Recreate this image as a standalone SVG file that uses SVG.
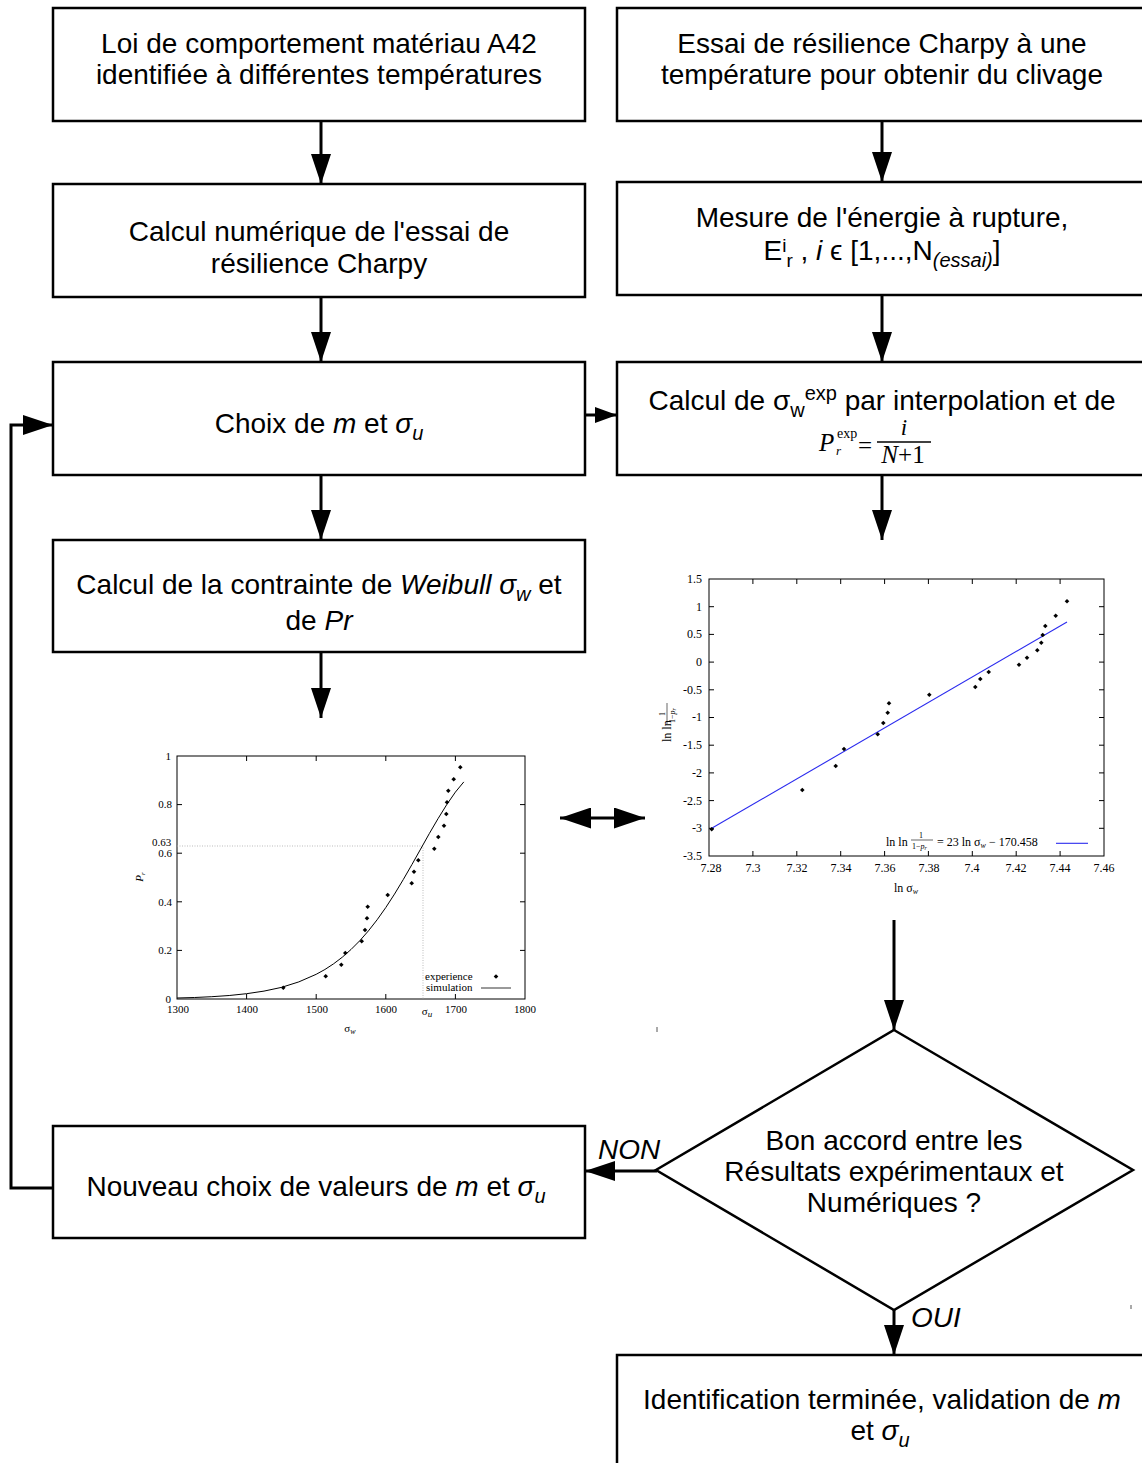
<svg xmlns="http://www.w3.org/2000/svg" width="1142" height="1463" viewBox="0 0 1142 1463">
<style>
.box{fill:#fff;stroke:#000;stroke-width:2.5}
.t{font-family:"Liberation Sans",Arial,sans-serif;font-size:28px;fill:#000;text-anchor:middle}
.lb{font-family:"Liberation Sans",Arial,sans-serif;font-size:28px;fill:#000;font-style:italic}
.i{font-style:italic}
.c{fill:none;stroke:#000;stroke-width:3}
.ax{fill:none;stroke:#000;stroke-width:1}
.pl{font-family:"Liberation Serif","Times New Roman",serif;font-size:11px;fill:#000}
.pr{font-family:"Liberation Serif","Times New Roman",serif;font-size:12px;fill:#000}
.m{font-family:"Liberation Serif","Times New Roman",serif;fill:#000}
</style>
<defs>
<marker id="ah" markerUnits="userSpaceOnUse" markerWidth="30" markerHeight="20" viewBox="0 0 30 20" refX="30" refY="10" orient="auto"><path d="M0,0L30,10L0,20z" fill="#000"/></marker>
<marker id="ahd" markerUnits="userSpaceOnUse" markerWidth="31" markerHeight="21" viewBox="0 0 31 21" refX="31" refY="10.5" orient="auto-start-reverse"><path d="M0,0L31,10.5L0,21z" fill="#000"/></marker>
<marker id="ahs" markerUnits="userSpaceOnUse" markerWidth="22" markerHeight="16" viewBox="0 0 22 16" refX="22" refY="8" orient="auto"><path d="M0,0L22,8L0,16z" fill="#000"/></marker>
<path id="dm" d="M0,-2.3L2.3,0L0,2.3L-2.3,0z" fill="#000"/>
</defs>
<rect width="1142" height="1463" fill="#fff"/>

<g id="n-loi">
<rect class="box" x="53" y="8" width="532" height="113"/>
<text class="t" x="319" y="53">Loi de comportement matériau A42</text>
<text class="t" x="319" y="84">identifiée à différentes températures</text>
</g>
<g id="n-essai">
<rect class="box" x="617" y="8" width="531" height="113"/>
<text class="t" x="882" y="53">Essai de résilience Charpy à une</text>
<text class="t" x="882" y="84">température pour obtenir du clivage</text>
</g>
<g id="n-calcnum">
<rect class="box" x="53" y="184" width="532" height="113"/>
<text class="t" x="319" y="241">Calcul numérique de l'essai de</text>
<text class="t" x="319" y="273">résilience Charpy</text>
</g>
<g id="n-mesure">
<rect class="box" x="617" y="182" width="531" height="113"/>
<text class="t" x="882" y="227">Mesure de l'énergie à rupture,</text>
<text class="t" x="882" y="260">E<tspan font-size="19" dy="-8">i</tspan><tspan font-size="19" dy="15">r</tspan><tspan dy="-7"> , </tspan><tspan class="i">i</tspan> ϵ [1,...,N<tspan class="i" font-size="20" dy="7">(essai)</tspan><tspan dy="-7">]</tspan></text>
</g>
<g id="n-choix">
<rect class="box" x="53" y="362" width="532" height="113"/>
<text class="t" x="319" y="433">Choix de <tspan class="i">m</tspan> et <tspan class="i">σ</tspan><tspan class="i" font-size="20" dy="7">u</tspan></text>
</g>
<g id="n-interp">
<rect class="box" x="617" y="362" width="531" height="113"/>
<text class="t" x="882" y="410">Calcul de σ<tspan font-size="20" dy="7">w</tspan><tspan font-size="20" dy="-17">exp</tspan><tspan dy="10"> par interpolation et de</tspan></text>
<text class="m i" x="819" y="451" font-size="25">P</text>
<text class="m" x="837" y="438" font-size="14">exp</text>
<text class="m i" x="836" y="455" font-size="13">r</text>
<text class="m" x="858" y="454" font-size="25">=</text>
<line x1="877" y1="442" x2="931" y2="442" stroke="#000" stroke-width="1.5"/>
<text class="m i" x="904" y="435" font-size="23" text-anchor="middle">i</text>
<text class="m" x="903" y="463" font-size="25" text-anchor="middle"><tspan class="i">N</tspan>+1</text>
</g>
<g id="n-weibull">
<rect class="box" x="53" y="540" width="532" height="112"/>
<text class="t" x="319" y="594">Calcul de la contrainte de <tspan class="i">Weibull σ</tspan><tspan class="i" font-size="20" dy="7">w</tspan><tspan dy="-7"> et</tspan></text>
<text class="t" x="319" y="630">de <tspan class="i">Pr</tspan></text>
</g>
<g id="n-nouveau">
<rect class="box" x="53" y="1126" width="532" height="112"/>
<text class="t" x="316" y="1196">Nouveau choix de valeurs de <tspan class="i">m</tspan> et <tspan class="i">σ</tspan><tspan class="i" font-size="20" dy="7">u</tspan></text>
</g>
<g id="n-accord">
<polygon points="894,1030 1133,1170 894,1310 656,1170" fill="#fff" stroke="#000" stroke-width="2.5"/>
<text class="t" x="894" y="1150">Bon accord entre les</text>
<text class="t" x="894" y="1181">Résultats expérimentaux et</text>
<text class="t" x="894" y="1212">Numériques ?</text>
</g>
<g id="n-fin">
<rect class="box" x="617" y="1355" width="531" height="120"/>
<text class="t" x="882" y="1409">Identification terminée, validation de <tspan class="i">m</tspan></text>
<text class="t" x="880" y="1440">et <tspan class="i">σ</tspan><tspan class="i" font-size="20" dy="7">u</tspan></text>
</g>

<g id="plot-left">
<rect class="ax" x="177" y="756" width="348" height="243"/>
<path class="ax" d="M246.6,999v-5M316.2,999v-5M385.8,999v-5M455.4,999v-5M246.6,756v5M316.2,756v5M385.8,756v5M455.4,756v5M177,950.4h5M177,901.8h5M177,853.2h5M177,804.6h5M525,950.4h-5M525,901.8h-5M525,853.2h-5M525,804.6h-5"/>
<g class="pl" text-anchor="end">
<text x="171" y="1003">0</text><text x="172" y="954">0.2</text><text x="172" y="906">0.4</text><text x="172" y="857">0.6</text><text x="172" y="808">0.8</text><text x="171" y="760">1</text>
</g>
<text class="pl" x="152" y="846" font-size="12.5">0.63</text>
<g class="pl" text-anchor="middle">
<text x="178" y="1013">1300</text><text x="247" y="1013">1400</text><text x="317" y="1013">1500</text><text x="386" y="1013">1600</text><text x="456" y="1013">1700</text><text x="525" y="1013">1800</text>
</g>
<text class="pl" x="427" y="1015" font-size="13" text-anchor="middle">σ<tspan class="i" font-size="9" dy="2">u</tspan></text>
<text class="pl" x="350" y="1032" font-size="11" text-anchor="middle">σ<tspan class="i" font-size="8" dy="2">w</tspan></text>
<text class="pl i" transform="translate(143,877) rotate(-90)" font-size="10" text-anchor="middle">P<tspan font-size="7" dy="2">r</tspan></text>
<path d="M177,846H423V999" fill="none" stroke="#aaa" stroke-width="0.8" stroke-dasharray="1,1.5"/>
<path class="ax" d="M177,998L194.4,997.5L211.8,996.7L229.2,995.5L246.6,993.7L264,991.1L281.4,987.4L298.8,981.9L316.2,974.3L324.9,969.5L333.6,963.8L342.3,957.2L351,949.5L359.7,940.8L368.4,930.9L377.1,919.8L385.8,907.5L394.5,894.1L403.2,879.7L411.9,864.6L420.6,849.1L429.3,833.6L438,818.7L446.7,804.7L455.4,792.1L463.8,781.9" stroke-width="1.2"/>
<g>
<use href="#dm" x="283.3" y="987.7"/><use href="#dm" x="325.7" y="976.3"/><use href="#dm" x="341.3" y="964.7"/><use href="#dm" x="345.3" y="953"/><use href="#dm" x="361.7" y="941.3"/><use href="#dm" x="365" y="930"/><use href="#dm" x="367" y="918.3"/><use href="#dm" x="367.7" y="906.7"/><use href="#dm" x="387.7" y="895"/><use href="#dm" x="411.7" y="883.3"/><use href="#dm" x="414" y="871.7"/><use href="#dm" x="418.3" y="860.3"/><use href="#dm" x="434.3" y="848.7"/><use href="#dm" x="438.3" y="837"/><use href="#dm" x="444" y="825.7"/><use href="#dm" x="446.3" y="814"/><use href="#dm" x="447" y="802.3"/><use href="#dm" x="448.3" y="790.7"/><use href="#dm" x="453.7" y="779.3"/><use href="#dm" x="460.3" y="767.3"/>
</g>
<text class="pl" x="425" y="980" font-size="10.5">experience</text>
<use href="#dm" x="496" y="976.5"/>
<text class="pl" x="426" y="991" font-size="10.5">simulation</text>
<line x1="481" y1="988" x2="511" y2="988" stroke="#000" stroke-width="0.8"/>
</g>

<g id="plot-right">
<rect class="ax" x="709" y="579" width="395" height="277"/>
<path class="ax" d="M752.9,856v-5M796.8,856v-5M840.7,856v-5M884.6,856v-5M928.4,856v-5M972.3,856v-5M1016.2,856v-5M1060.1,856v-5M752.9,579v5M796.8,579v5M840.7,579v5M884.6,579v5M928.4,579v5M972.3,579v5M1016.2,579v5M1060.1,579v5M709,606.7h5M709,634.4h5M709,662.1h5M709,689.8h5M709,717.5h5M709,745.2h5M709,772.9h5M709,800.6h5M709,828.3h5M1104,606.7h-5M1104,634.4h-5M1104,662.1h-5M1104,689.8h-5M1104,717.5h-5M1104,745.2h-5M1104,772.9h-5M1104,800.6h-5M1104,828.3h-5"/>
<g class="pr" text-anchor="end">
<text x="702" y="583">1.5</text><text x="702" y="611">1</text><text x="702" y="638">0.5</text><text x="702" y="666">0</text><text x="702" y="694">-0.5</text><text x="702" y="721">-1</text><text x="702" y="749">-1.5</text><text x="702" y="777">-2</text><text x="702" y="805">-2.5</text><text x="702" y="832">-3</text><text x="702" y="860">-3.5</text>
</g>
<g class="pr" text-anchor="middle">
<text x="711" y="872">7.28</text><text x="753" y="872">7.3</text><text x="797" y="872">7.32</text><text x="841" y="872">7.34</text><text x="885" y="872">7.36</text><text x="929" y="872">7.38</text><text x="972" y="872">7.4</text><text x="1016" y="872">7.42</text><text x="1060" y="872">7.44</text><text x="1104" y="872">7.46</text>
</g>
<text class="pr" x="906" y="892" text-anchor="middle">ln σ<tspan class="i" font-size="8" dy="2">w</tspan></text>
<g transform="translate(667,719) rotate(-90)">
<text class="pr" x="-23" y="4" font-size="11">ln ln</text>
<text class="m" x="5" y="-2" font-size="8" text-anchor="middle">1</text>
<line x1="-5" y1="0" x2="16" y2="0" stroke="#000" stroke-width="0.6"/>
<text class="m" x="-4" y="8" font-size="8">1−<tspan class="i">p</tspan><tspan class="i" font-size="6" dy="1">r</tspan></text>
</g>
<line x1="711.7" y1="828.3" x2="1067" y2="622" stroke="#2a2aee" stroke-width="1.1"/>
<g>
<use href="#dm" x="711.7" y="829.3"/><use href="#dm" x="802.3" y="790"/><use href="#dm" x="835.7" y="766"/><use href="#dm" x="844" y="749"/><use href="#dm" x="877.7" y="734.3"/><use href="#dm" x="883.3" y="723"/><use href="#dm" x="887.7" y="712.7"/><use href="#dm" x="889" y="703.3"/><use href="#dm" x="929.3" y="694.7"/><use href="#dm" x="975.3" y="687"/><use href="#dm" x="980.3" y="679"/><use href="#dm" x="988.7" y="672"/><use href="#dm" x="1019" y="664.7"/><use href="#dm" x="1027" y="657.7"/><use href="#dm" x="1037.3" y="650.3"/><use href="#dm" x="1041.3" y="642.7"/><use href="#dm" x="1042.7" y="635"/><use href="#dm" x="1045.3" y="626"/><use href="#dm" x="1055.7" y="615.7"/><use href="#dm" x="1067" y="601.3"/>
</g>
<text class="pr" x="886" y="846" font-size="11.5">ln ln</text>
<text class="m" x="921" y="838" font-size="8" text-anchor="middle">1</text>
<line x1="911" y1="840" x2="933" y2="840" stroke="#000" stroke-width="0.6"/>
<text class="m" x="912" y="848.5" font-size="8">1−<tspan class="i">p</tspan><tspan class="i" font-size="6" dy="1">r</tspan></text>
<text class="pr" x="937" y="846" font-size="11.5">= 23 ln σ<tspan class="i" font-size="8" dy="2">w</tspan><tspan dy="-2"> − 170.458</tspan></text>
<line x1="1056" y1="843.3" x2="1088" y2="843.3" stroke="#2a2aee" stroke-width="1.1"/>
</g>

<g id="connectors">
<path class="c" d="M321,121V184" marker-end="url(#ah)"/>
<path class="c" d="M882,121V182" marker-end="url(#ah)"/>
<path class="c" d="M321,297V362" marker-end="url(#ah)"/>
<path class="c" d="M882,295V362" marker-end="url(#ah)"/>
<path class="c" d="M585,415H617" marker-end="url(#ahs)"/>
<path class="c" d="M321,475V540" marker-end="url(#ah)"/>
<path class="c" d="M882,475V540" marker-end="url(#ah)"/>
<path class="c" d="M321,652V718" marker-end="url(#ah)"/>
<path class="c" d="M560,818H645" marker-start="url(#ahd)" marker-end="url(#ahd)"/>
<path class="c" d="M894,920V1030" marker-end="url(#ah)"/>
<path class="c" d="M657,1171H585" marker-end="url(#ah)"/>
<path class="c" d="M894,1310V1355" marker-end="url(#ah)"/>
<path class="c" d="M53,1188H11V425H53" marker-end="url(#ah)"/>
<text class="lb" x="598" y="1159">NON</text>
<text class="lb" x="911" y="1327">OUI</text>
</g>
<path d="M657,1027v5M1131,1305v4" stroke="#555" stroke-width="1"/>
</svg>
